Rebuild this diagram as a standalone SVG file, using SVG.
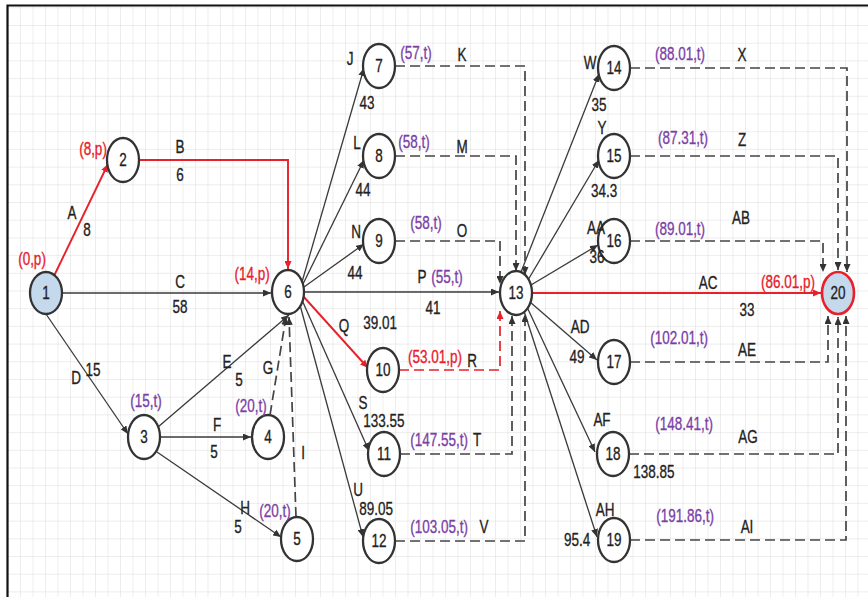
<svg xmlns="http://www.w3.org/2000/svg" width="868" height="597" viewBox="0 0 868 597">
<defs>
<pattern id="grid" x="7.5" y="7.3" width="12.5" height="17.7" patternUnits="userSpaceOnUse">
<path d="M0,0 H12.5 M0,0 V17.7" fill="none" stroke="#dcdcdc" stroke-width="1"/>
</pattern>
<marker id="ad" markerWidth="8" markerHeight="7" refX="8" refY="3.5" orient="auto" markerUnits="userSpaceOnUse"><path d="M0,0 L8,3.5 L0,7 z" fill="#333"/></marker>
<marker id="ar" markerWidth="8" markerHeight="7" refX="8" refY="3.5" orient="auto" markerUnits="userSpaceOnUse"><path d="M0,0 L8,3.5 L0,7 z" fill="#e8202a"/></marker>
<style>
.s{fill:none;stroke:#3a3a3a;stroke-width:1.3;marker-end:url(#ad)}
.d{fill:none;stroke:#444;stroke-width:1.7;stroke-dasharray:10 5;marker-end:url(#ad)}
.rs{fill:none;stroke:#e8202a;stroke-width:1.9;marker-end:url(#ar)}
.rd{fill:none;stroke:#e8202a;stroke-width:1.7;stroke-dasharray:10 5;marker-end:url(#ar)}
.n{fill:#fff;stroke:#333;stroke-width:2.3}
.nb{fill:#c5d9ec;stroke:#333;stroke-width:2.3}
.nr{fill:#c5d9ec;stroke:#e8202a;stroke-width:2.6}
text{font-family:"Liberation Sans",Arial,sans-serif;font-size:13.5px;text-anchor:middle;fill:#222;stroke:#222;stroke-width:0.25}
.r{fill:#e8202a;stroke:#e8202a}
.p{fill:#7b3fa6;stroke:#7b3fa6}
</style>
</defs>
<rect width="868" height="597" fill="#fff"/>
<rect x="7" y="5" width="861" height="592" fill="url(#grid)"/>
<path d="M7.5,597 V5.5 H868" fill="none" stroke="#111" stroke-width="2.2"/>

<g id="connectors">
<path class="rs" d="M54,276 L108,164"/>
<path class="rs" d="M139,160 H288 V269"/>
<path class="s" d="M62,293 H271"/>
<path class="s" d="M46,314 L128,434"/>
<path class="s" d="M158,427 L289,315"/>
<path class="s" d="M160,437 H251"/>
<path class="d" d="M270,415 L286,317"/>
<path class="s" d="M157,452 L281,537"/>
<path class="d" d="M296,517 L289,317"/>
<path class="s" d="M302,282 L364,68"/>
<path class="s" d="M303,284 L364,160"/>
<path class="s" d="M304,287 L364,244"/>
<path class="s" d="M304,292 H499"/>
<path class="rs" d="M303,296 L368,368"/>
<path class="s" d="M302,300 L369,451"/>
<path class="s" d="M300,305 L363,537"/>
<path class="d" d="M395,66 H525 V275"/>
<path class="d" d="M395,156 H516 V271"/>
<path class="d" d="M395,241 H500 V284"/>
<path class="rd" d="M399,370 H500 V311"/>
<path class="d" d="M400,454 H512 V316"/>
<path class="d" d="M395,541 H525 V314"/>
<path class="s" d="M521,272 L599,74"/>
<path class="s" d="M528,280 L599,160"/>
<path class="s" d="M531,285 L598,245"/>
<path class="rs" d="M532,293 H821"/>
<path class="s" d="M530,302 L597,360"/>
<path class="s" d="M527,307 L595,452"/>
<path class="s" d="M524,311 L597,537"/>
<path class="d" d="M630,68 H847 V272"/>
<path class="d" d="M630,156 H838 V270"/>
<path class="d" d="M630,241 H823 V272"/>
<path class="d" d="M630,362 H828 V316"/>
<path class="d" d="M629,454 H838 V317"/>
<path class="d" d="M630,540 H846 V316"/>
</g>

<g id="n1"><ellipse class="nb" cx="46" cy="293" rx="16" ry="21"/><text transform="matrix(1 0 0 1.3 46 299)">1</text></g>
<g id="n2"><ellipse class="n" cx="123" cy="160" rx="16" ry="22"/><text transform="matrix(1 0 0 1.3 123 166)">2</text></g>
<g id="n3"><ellipse class="n" cx="144" cy="437" rx="16" ry="22"/><text transform="matrix(1 0 0 1.3 144 443)">3</text></g>
<g id="n4"><ellipse class="n" cx="268" cy="437" rx="16" ry="22"/><text transform="matrix(1 0 0 1.3 268 443)">4</text></g>
<g id="n5"><ellipse class="n" cx="297" cy="539" rx="16" ry="22"/><text transform="matrix(1 0 0 1.3 297 545)">5</text></g>
<g id="n6"><ellipse class="n" cx="288" cy="292" rx="16" ry="22"/><text transform="matrix(1 0 0 1.3 288 298)">6</text></g>
<g id="n7"><ellipse class="n" cx="379" cy="66" rx="16" ry="22"/><text transform="matrix(1 0 0 1.3 379 72)">7</text></g>
<g id="n8"><ellipse class="n" cx="379" cy="156" rx="16" ry="22"/><text transform="matrix(1 0 0 1.3 379 162)">8</text></g>
<g id="n9"><ellipse class="n" cx="379" cy="241" rx="16" ry="22"/><text transform="matrix(1 0 0 1.3 379 247)">9</text></g>
<g id="n10"><ellipse class="n" cx="383" cy="370" rx="16" ry="22"/><text transform="matrix(1 0 0 1.3 383 376)">10</text></g>
<g id="n11"><ellipse class="n" cx="384" cy="454" rx="16" ry="22"/><text transform="matrix(1 0 0 1.3 384 460)">11</text></g>
<g id="n12"><ellipse class="n" cx="379" cy="541" rx="16" ry="22"/><text transform="matrix(1 0 0 1.3 379 547)">12</text></g>
<g id="n13"><ellipse class="n" cx="516" cy="293" rx="16" ry="22"/><text transform="matrix(1 0 0 1.3 516 299)">13</text></g>
<g id="n14"><ellipse class="n" cx="614" cy="68" rx="16" ry="22"/><text transform="matrix(1 0 0 1.3 614 74)">14</text></g>
<g id="n15"><ellipse class="n" cx="614" cy="156" rx="16" ry="22"/><text transform="matrix(1 0 0 1.3 614 162)">15</text></g>
<g id="n16"><ellipse class="n" cx="614" cy="241" rx="16" ry="22"/><text transform="matrix(1 0 0 1.3 614 247)">16</text></g>
<g id="n17"><ellipse class="n" cx="614" cy="362" rx="16" ry="22"/><text transform="matrix(1 0 0 1.3 614 368)">17</text></g>
<g id="n18"><ellipse class="n" cx="613" cy="454" rx="16" ry="22"/><text transform="matrix(1 0 0 1.3 613 460)">18</text></g>
<g id="n19"><ellipse class="n" cx="614" cy="540" rx="16" ry="22"/><text transform="matrix(1 0 0 1.3 614 546)">19</text></g>
<g id="n20"><ellipse class="nr" cx="838" cy="293" rx="16" ry="21"/><text transform="matrix(1 0 0 1.3 838 299)">20</text></g>

<g id="labels">
<text class="r" transform="matrix(1 0 0 1.3 32 265)">(0,p)</text>
<text class="r" transform="matrix(1 0 0 1.3 93 155)">(8,p)</text>
<text transform="matrix(1 0 0 1.3 72 219)">A</text>
<text transform="matrix(1 0 0 1.3 87 236)">8</text>
<text transform="matrix(1 0 0 1.3 180 153)">B</text>
<text transform="matrix(1 0 0 1.3 180 181)">6</text>
<text transform="matrix(1 0 0 1.3 180 288)">C</text>
<text transform="matrix(1 0 0 1.3 180 313)">58</text>
<text class="r" transform="matrix(1 0 0 1.3 252 280)">(14,p)</text>
<text transform="matrix(1 0 0 1.3 76 384)">D</text>
<text transform="matrix(1 0 0 1.3 93 376)">15</text>
<text class="p" transform="matrix(1 0 0 1.3 146 407)">(15,t)</text>
<text transform="matrix(1 0 0 1.3 227 368)">E</text>
<text transform="matrix(1 0 0 1.3 239 386)">5</text>
<text transform="matrix(1 0 0 1.3 268 374)">G</text>
<text class="p" transform="matrix(1 0 0 1.3 251 412)">(20,t)</text>
<text transform="matrix(1 0 0 1.3 217 431)">F</text>
<text transform="matrix(1 0 0 1.3 214 458)">5</text>
<text transform="matrix(1 0 0 1.3 303 459)">I</text>
<text transform="matrix(1 0 0 1.3 245 514)">H</text>
<text transform="matrix(1 0 0 1.3 238 533)">5</text>
<text class="p" transform="matrix(1 0 0 1.3 275 517)">(20,t)</text>
<text transform="matrix(1 0 0 1.3 350 65)">J</text>
<text class="p" transform="matrix(1 0 0 1.3 416 59)">(57,t)</text>
<text transform="matrix(1 0 0 1.3 462 61)">K</text>
<text transform="matrix(1 0 0 1.3 367 109)">43</text>
<text transform="matrix(1 0 0 1.3 357 149)">L</text>
<text class="p" transform="matrix(1 0 0 1.3 414 148)">(58,t)</text>
<text transform="matrix(1 0 0 1.3 462 153)">M</text>
<text transform="matrix(1 0 0 1.3 363 196)">44</text>
<text transform="matrix(1 0 0 1.3 356 238)">N</text>
<text class="p" transform="matrix(1 0 0 1.3 426 229)">(58,t)</text>
<text transform="matrix(1 0 0 1.3 462 237)">O</text>
<text transform="matrix(1 0 0 1.3 355 279)">44</text>
<text transform="matrix(1 0 0 1.3 422 283)">P</text>
<text class="p" transform="matrix(1 0 0 1.3 447 283)">(55,t)</text>
<text transform="matrix(1 0 0 1.3 433 314)">41</text>
<text transform="matrix(1 0 0 1.3 344 332)">Q</text>
<text transform="matrix(1 0 0 1.3 380 329)">39.01</text>
<text class="r" transform="matrix(1 0 0 1.3 435 363)">(53.01,p)</text>
<text transform="matrix(1 0 0 1.3 472 367)">R</text>
<text transform="matrix(1 0 0 1.3 363 409)">S</text>
<text transform="matrix(1 0 0 1.3 384 427)">133.55</text>
<text class="p" transform="matrix(1 0 0 1.3 439 446)">(147.55,t)</text>
<text transform="matrix(1 0 0 1.3 477 446)">T</text>
<text transform="matrix(1 0 0 1.3 358 496)">U</text>
<text transform="matrix(1 0 0 1.3 376 515)">89.05</text>
<text class="p" transform="matrix(1 0 0 1.3 439 533)">(103.05,t)</text>
<text transform="matrix(1 0 0 1.3 484 533)">V</text>
<text transform="matrix(1 0 0 1.3 590 69)">W</text>
<text transform="matrix(1 0 0 1.3 599 111)">35</text>
<text class="p" transform="matrix(1 0 0 1.3 680 60)">(88.01,t)</text>
<text transform="matrix(1 0 0 1.3 742 61)">X</text>
<text transform="matrix(1 0 0 1.3 602 134)">Y</text>
<text class="p" transform="matrix(1 0 0 1.3 683 144)">(87.31,t)</text>
<text transform="matrix(1 0 0 1.3 742 146)">Z</text>
<text transform="matrix(1 0 0 1.3 604 197)">34.3</text>
<text transform="matrix(1 0 0 1.3 596 234)">AA</text>
<text transform="matrix(1 0 0 1.3 597 263)">36</text>
<text class="p" transform="matrix(1 0 0 1.3 680 235)">(89.01,t)</text>
<text transform="matrix(1 0 0 1.3 741 224)">AB</text>
<text transform="matrix(1 0 0 1.3 708 289)">AC</text>
<text class="r" transform="matrix(1 0 0 1.3 788 288)">(86.01,p)</text>
<text transform="matrix(1 0 0 1.3 747 316)">33</text>
<text transform="matrix(1 0 0 1.3 580 333)">AD</text>
<text transform="matrix(1 0 0 1.3 577 363)">49</text>
<text class="p" transform="matrix(1 0 0 1.3 679 344)">(102.01,t)</text>
<text transform="matrix(1 0 0 1.3 747 356)">AE</text>
<text transform="matrix(1 0 0 1.3 602 426)">AF</text>
<text class="p" transform="matrix(1 0 0 1.3 684 430)">(148.41,t)</text>
<text transform="matrix(1 0 0 1.3 748 443)">AG</text>
<text transform="matrix(1 0 0 1.3 654 478)">138.85</text>
<text transform="matrix(1 0 0 1.3 605 516)">AH</text>
<text class="p" transform="matrix(1 0 0 1.3 685 522)">(191.86,t)</text>
<text transform="matrix(1 0 0 1.3 747 533)">AI</text>
<text transform="matrix(1 0 0 1.3 577 546)">95.4</text>
</g>
</svg>
